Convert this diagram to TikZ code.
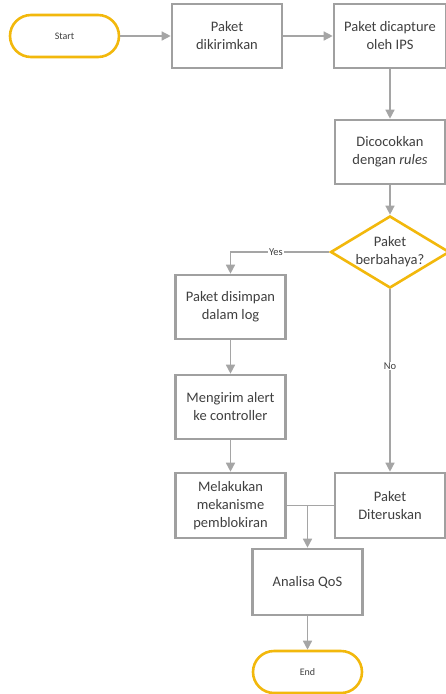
\documentclass[tikz,border=0pt]{standalone}
\usepackage{fontspec}
\setmainfont{Carlito}
\usetikzlibrary{shapes.geometric,arrows.meta}
\definecolor{ylw}{RGB}{242,184,12}
\definecolor{gbord}{RGB}{160,160,160}
\definecolor{gline}{RGB}{165,165,165}
\definecolor{txt}{RGB}{64,64,64}
\tikzset{
  every node/.style={text=txt},
  procbox/.style={draw=gbord, line width=2.6pt, fill=white, minimum width=110pt, minimum height=64pt, inner sep=2pt, align=center, font=\fontsize{14.5}{18}\selectfont},
  termbox/.style={draw=ylw, line width=2.6pt, fill=white, rounded corners=21pt, minimum width=109pt, minimum height=42pt, font=\fontsize{10}{12}\selectfont},
  decbox/.style={draw=ylw, line width=2.6pt, fill=white, diamond, aspect=1.65, minimum width=110pt, minimum height=66pt, inner sep=0pt, align=center, font=\fontsize{14.5}{18}\selectfont},
  conn/.style={draw=gline, line width=1.4pt, -{Triangle[length=9pt,width=9pt]}},
  plainconn/.style={draw=gline, line width=1.4pt},
  lbl/.style={fill=white, inner sep=1pt, font=\fontsize{10.5}{12}\selectfont}
}
\begin{document}
\begin{tikzpicture}[x=1pt,y=-1pt]
\useasboundingbox (0,0) rectangle (445,694);
\node[termbox] (start) at (64.5,36) {Start};
\node[procbox] (kirim) at (227,36) {Paket\\dikirimkan};
\node[procbox, minimum width=112pt] (capt) at (390,36) {Paket dicapture\\oleh IPS};
\node[procbox] (cocok) at (390,152) {Dicocokkan\\dengan \textit{rules}};
\node[decbox] (dec) at (390,252) {Paket\\berbahaya?};
\node[procbox] (simpan) at (230.5,307) {Paket disimpan\\dalam log};
\node[procbox] (alert) at (230.5,407) {Mengirim alert\\ke controller};
\node[procbox, minimum height=65pt] (blok) at (230.5,505.5) {Melakukan\\mekanisme\\pemblokiran};
\node[procbox, minimum height=65pt] (terus) at (390,505.5) {Paket\\Diteruskan};
\node[procbox, minimum height=66pt] (qos) at (307.5,582) {Analisa QoS};
\node[termbox] (end) at (307.5,672) {End};
\coordinate (merge) at (307.5,505.5);

\draw[conn] (start) -- (kirim);
\draw[conn] (kirim) -- (capt);
\draw[conn] (capt) -- (cocok);
\draw[conn] (cocok) -- (dec);
\draw[conn] (dec.west) -| node[lbl, pos=0.27] {Yes} (simpan.north);
\draw[conn] (dec.south) -- node[lbl, pos=0.42] {No} (terus.north);
\draw[conn] (simpan) -- (alert);
\draw[conn] (alert) -- (blok);
\draw[plainconn] (blok.east) -- (terus.west);
\draw[conn] (merge) -- (qos.north);
\draw[conn] (qos) -- (end);
\end{tikzpicture}
\end{document}
